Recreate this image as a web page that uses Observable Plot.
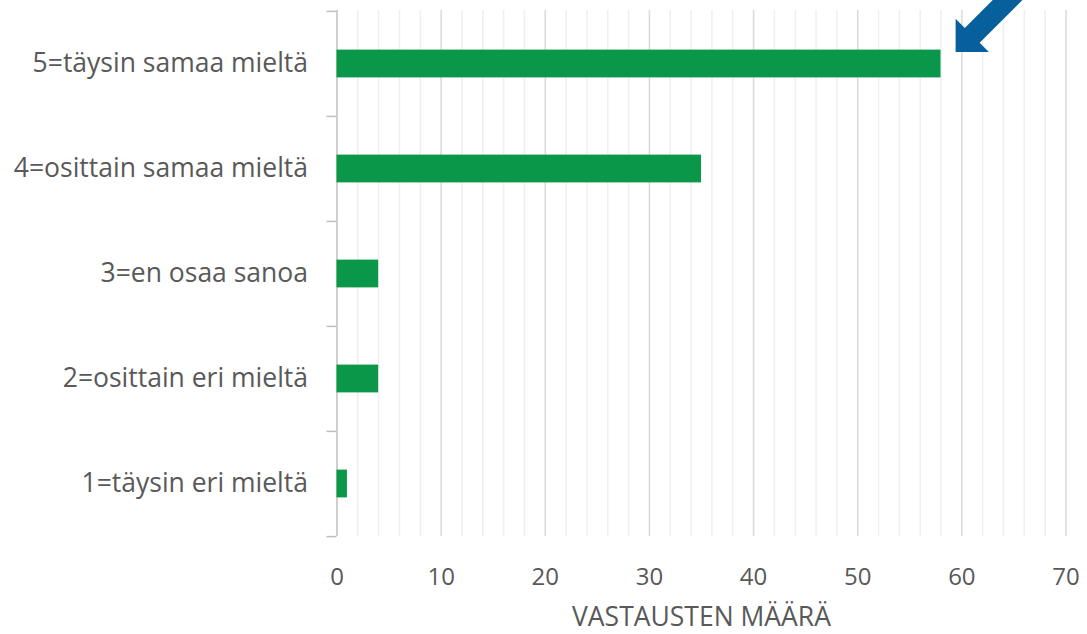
<!DOCTYPE html>
<html>
<head>
<meta charset="utf-8">
<script src="https://cdn.jsdelivr.net/npm/d3@7"></script>
<script src="https://cdn.jsdelivr.net/npm/@observablehq/plot@0.6"></script>
<style>
  html, body { margin: 0; padding: 0; background: #ffffff; }
</style>
</head>
<body>
<div id="chart"></div>
<script>
const categories = [
  "5=täysin samaa mieltä",
  "4=osittain samaa mieltä",
  "3=en osaa sanoa",
  "2=osittain eri mieltä",
  "1=täysin eri mieltä"
];
const counts = [58, 35, 4, 4, 1];
const majorTicks = [0, 10, 20, 30, 40, 50, 60, 70];
const minorTicks = [2, 4, 6, 8, 12, 14, 16, 18, 22, 24, 26, 28, 32, 34, 36, 38, 42, 44, 46, 48, 52, 54, 56, 58, 62, 64, 66, 68];
const axisTitle = "VASTAUSTEN MÄÄRÄ";
const arrowAnnotation = [{category: "5=täysin samaa mieltä", value: 59.4}];

const data = categories.map((c, i) => ({category: c, value: counts[i]}));

const textColor = "#595959";
const W = 1087, H = 634;
const mTop = 10, mBottom = 98;
const step = (H - mTop - mBottom) / categories.length;

const filledArrow = {
  draw(context, l) {
    const w = 10.5, h = 23.5, hl = 23.5;
    context.moveTo(-w, 0);
    context.lineTo(-w, -l + hl);
    context.lineTo(-h, -l + hl);
    context.lineTo(0, -l);
    context.lineTo(h, -l + hl);
    context.lineTo(w, -l + hl);
    context.lineTo(w, 0);
    context.closePath();
  }
};

const chart = Plot.plot({
  width: W,
  height: H,
  marginLeft: 336.5,
  marginRight: 21.5,
  marginTop: mTop,
  marginBottom: mBottom,
  style: {fontFamily: "'Open Sans', sans-serif", fontSize: "24px", color: textColor, background: "#ffffff"},
  x: {domain: [0, 70], label: null},
  y: {domain: categories, padding: 0, label: null},
  marks: [
    Plot.gridX(minorTicks, {stroke: "#efefef", strokeOpacity: 1, strokeWidth: 1.5}),
    Plot.gridX(majorTicks.slice(1), {stroke: "#d9d9d9", strokeOpacity: 1, strokeWidth: 1.5}),
    Plot.ruleX([0], {stroke: "#bfbfbf", strokeWidth: 1.5}),
    Plot.axisY({tickSize: 0, tickPadding: 29, fill: textColor, fontSize: 26.5}),
    Plot.axisY({tickSize: 10, tickFormat: () => "", dy: -step / 2, stroke: "#bfbfbf", strokeWidth: 1.5}),
    Plot.axisY([categories[categories.length - 1]], {tickSize: 10, tickFormat: () => "", dy: step / 2, stroke: "#bfbfbf", strokeWidth: 1.5}),
    Plot.axisX(majorTicks, {tickSize: 0, tickPadding: 31, fill: textColor, label: null}),
    Plot.axisX({ticks: [], label: axisTitle, labelAnchor: "center", labelOffset: 89, labelArrow: "none", fill: textColor, fontSize: 26.5}),
    Plot.barX(data, {x: "value", y: "category", fill: "#0a9749", insetTop: 38.6, insetBottom: 38.6}),
    Plot.vector(arrowAnnotation, {x: "value", y: "category", dy: -12, length: 110, rotate: 225, anchor: "end", shape: filledArrow, fill: "#05609c", stroke: "none"})
  ]
});
document.getElementById("chart").appendChild(chart);
</script>
</body>
</html>
